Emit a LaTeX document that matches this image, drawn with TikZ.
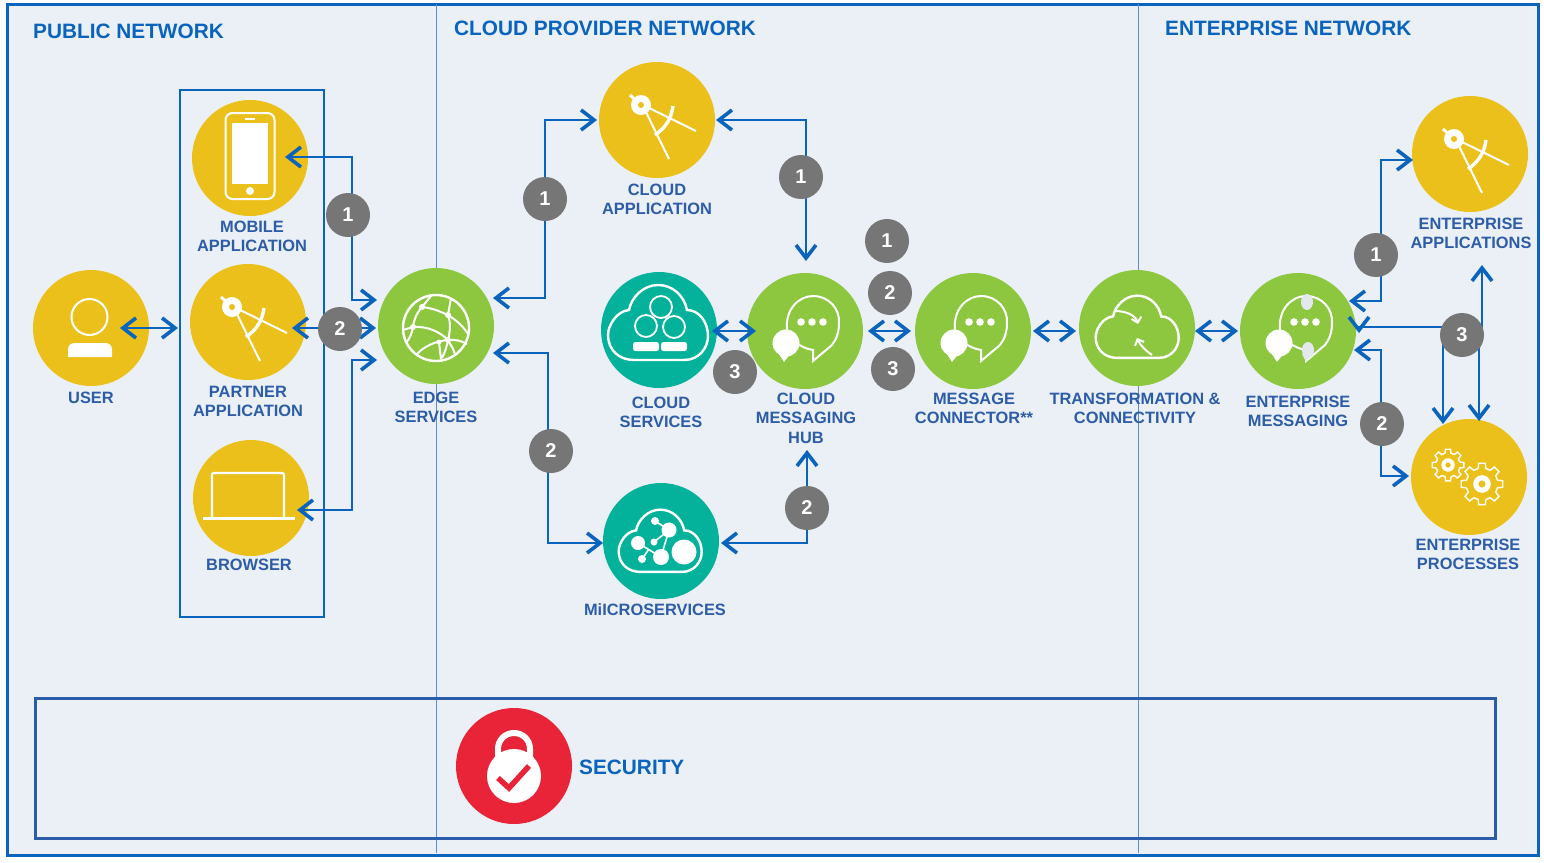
\documentclass[tikz,border=0pt]{standalone}
\usepackage{fontspec}
\setmainfont{Liberation Sans}
\usetikzlibrary{arrows.meta}

\definecolor{paneblue}{HTML}{EAF0F5}
\definecolor{wireblue}{HTML}{0A64BE}
\definecolor{framedark}{HTML}{2A5CAA}
\definecolor{zoneline}{HTML}{5C8FD0}
\definecolor{capblue}{HTML}{2D5CA8}
\definecolor{gold}{HTML}{EBC01A}
\definecolor{leaf}{HTML}{8DC63F}
\definecolor{teal}{HTML}{04B29C}
\definecolor{alarm}{HTML}{E92438}
\definecolor{slate}{HTML}{767676}
\definecolor{fadedot}{HTML}{E3E8EC}

\tikzset{
  compass/.pic={
    \draw[white,line width=2] (-13,-12)--(12,39) (-12,-14)--(39,11);
    \draw[white,line width=3.4] (16,-14) .. controls (14,0) and (8,8) .. (-2,15);
    \draw[white,line width=3] (-27,-25)--(-16,-15);
    \fill[white] (-16,-15) circle (10);
    \fill[gold] (-16,-15) circle (3);
  },
  chatbubble/.pic={
    \draw[white,line width=2] (-18,-1) .. controls (-20,-22) and (-6,-35) .. (8,-35)
      .. controls (24,-35) and (35,-22) .. (34,-8) .. controls (34,2) and (31,9) .. (27,14)
      -- (8,30) -- (8,19) .. controls (1,18) and (-4,15) .. (-9,12);
    \fill[white] (-19,12) circle (13.5);
    \fill[white] (-28,20) -- (-21,31) -- (-14,22) -- cycle;
    \foreach \dx in {-4,7,18}{\fill[white] (\dx,-9) circle (3.8);}
  },
  cloudline/.pic={
    \draw[white,line width=2.4] (-25,30) -- (25,30) .. controls (40,30) and (49,18) .. (49,6)
      .. controls (49,-8) and (40,-20) .. (28,-20) .. controls (25,-35) and (13,-45) .. (-1,-45)
      .. controls (-16,-45) and (-28,-32) .. (-30,-20) .. controls (-42,-19) and (-51,-5) .. (-51,5)
      .. controls (-51,20) and (-40,30) .. (-25,30) -- cycle;
  },
  gearwheel/.pic={
    \foreach \a in {0,45,...,315}{
      \draw[white,line width=1.4] (\a-14:.76) -- (\a-9:1) -- (\a+9:1) -- (\a+14:.76) -- (\a+31:.76);
    }
    \fill[white] (0,0) circle (.42);
    \fill[gold] (0,0) circle (.17);
  }
}

\begin{document}
\begin{tikzpicture}[x=1pt,y=-1pt]

\tikzstyle{vertex}=[circle,minimum size=116pt,inner sep=0pt]
\tikzstyle{edge}=[{Straight Barb[length=13pt,width=20pt,line width=3.6pt]}-{Straight Barb[length=13pt,width=20pt,line width=3.6pt]},draw=wireblue,line width=2pt]
\tikzstyle{badge}=[circle,fill=slate,minimum size=44pt,inner sep=0pt,text=white,font=\fontsize{20}{22}\selectfont\bfseries]
\tikzstyle{caption}=[align=center,inner sep=0pt,text=capblue,font=\fontsize{16.4}{19}\selectfont\bfseries]
\tikzstyle{zonetitle}=[anchor=west,inner sep=0pt,text=wireblue,font=\fontsize{20.8}{24}\selectfont\bfseries]
\tikzstyle{pane}=[draw=framedark,line width=3pt]

\useasboundingbox (0,0) rectangle (1544,862);
\draw[draw=wireblue,line width=3pt,fill=paneblue] (7,4) rectangle (1538,855);
\draw[zoneline,line width=1pt] (436,4) -- (436,853) (1138.5,4) -- (1138.5,853);
\draw[pane] (35,698) rectangle (1495,838);
\draw[draw=wireblue,line width=2pt] (180,90) rectangle (324,617);

\node[zonetitle](publictitle) at (33,31){PUBLIC NETWORK};
\node[zonetitle](cloudtitle) at (454,28){CLOUD PROVIDER NETWORK};
\node[zonetitle](enttitle) at (1165,28){ENTERPRISE NETWORK};

\node[vertex,fill=gold](user) at (91,328){};
\node[vertex,fill=gold](mobile) at (250,158){};
\node[vertex,fill=gold](partner) at (248,322){};
\node[vertex,fill=gold](browser) at (251,498){};
\node[vertex,fill=leaf](edges) at (436,326){};
\node[vertex,fill=gold](cloudapp) at (657,120){};
\node[vertex,fill=teal](cloudsvc) at (659,330){};
\node[vertex,fill=teal](micro) at (661,541){};
\node[vertex,fill=leaf](hub) at (805,331){};
\node[vertex,fill=leaf](connector) at (973,331){};
\node[vertex,fill=leaf](transform) at (1137,328){};
\node[vertex,fill=leaf](entmsg) at (1298,331){};
\node[vertex,fill=gold](entapp) at (1470,154){};
\node[vertex,fill=gold](entproc) at (1469,477){};
\node[vertex,fill=alarm](security) at (514,766){};

\node[caption](usercap) at (91,398){USER};
\node[caption](mobilecap) at (252,236){MOBILE\\APPLICATION};
\node[caption](partnercap) at (248,401){PARTNER\\APPLICATION};
\node[caption](browsercap) at (249,565){BROWSER};
\node[caption](edgecap) at (436,407){EDGE\\SERVICES};
\node[caption](cloudappcap) at (657,199){CLOUD\\APPLICATION};
\node[caption](cloudsvccap) at (661,412){CLOUD\\SERVICES};
\node[caption](hubcap) at (806,418){CLOUD\\MESSAGING\\[1pt]HUB};
\node[caption](connectorcap) at (974,408){MESSAGE\\CONNECTOR**};
\node[caption](transformcap) at (1135,408){TRANSFORMATION \&\\CONNECTIVITY};
\node[caption](entmsgcap) at (1298,411){ENTERPRISE\\MESSAGING};
\node[caption](entappcap) at (1471,233){ENTERPRISE\\APPLICATIONS};
\node[caption](entproccap) at (1468,554){ENTERPRISE\\PROCESSES};
\node[caption](microcap) at (655,610){MiICROSERVICES};
\node[zonetitle](securitycap) at (579,767){SECURITY};

% icons
\fill[white] (68,357) -- (68,350) .. controls (68,345) and (71,343) .. (75,343) -- (105,343) .. controls (109,343) and (112,345) .. (112,350) -- (112,357) -- cycle;
\draw[white,line width=2] (89.5,317) circle (18);

\draw[white,line width=2,rounded corners=7pt] (225.5,113) rectangle (274.5,199);
\fill[white] (232,123) rectangle (268,184);
\draw[white,line width=1.5] (245,119) -- (255,119);
\fill[white] (250,191) circle (4);

\pic at (partner) {compass};
\pic at (cloudapp) {compass};
\pic at (entapp) {compass};

\draw[white,line width=2.2,rounded corners=2pt] (212,518) -- (212,473) -- (284,473) -- (284,518);
\fill[white] (203,517) rectangle (295,520);

\begin{scope}[shift={(edges)}]
\draw[white,line width=2.4] (0,2) circle (33);
\draw[white,line width=2] (-14,-19) .. controls (-4,-18) and (3,-15) .. (12,-11) .. controls (20,-6) and (27,0) .. (32,8)
  (-5,-30) -- (-14,-19) .. controls (-20,-12) and (-22,-6) .. (-23,1) .. controls (-24,7) and (-26,12) .. (-30,17)
  (-33,4) -- (-23,1) .. controls (-8,0) and (4,6) .. (12,14) .. controls (14,18) and (17,22) .. (19,28)
  (15,-28) .. controls (14,-22) and (13,-17) .. (12,-11) .. controls (15,-3) and (14,6) .. (12,14) .. controls (11,20) and (9,26) .. (6,32)
  (-20,29) .. controls (-12,20) and (0,15) .. (12,14) .. controls (18,13) and (26,15) .. (31,18)
  (3,16) -- (5,33);
\fill[white] (-14,-19) circle (3) (12,-11) circle (3) (-23,1) circle (3) (12,14) circle (3) (3,16) circle (2.5);
\end{scope}

\pic at (cloudsvc) {cloudline};
\begin{scope}[shift={(cloudsvc)}]
\draw[white,line width=1.8] (2,-23) circle (11) (-13,-4) circle (11) (15,-3) circle (11);
\fill[white,rounded corners=2.5pt] (-26,12) rectangle (0,21);
\fill[white,rounded corners=2.5pt] (2,12) rectangle (28,21);
\end{scope}

\pic[yshift=-6pt,scale=.83] at (micro) {cloudline};
\begin{scope}[shift={(micro)}]
\fill[white] (23,11) circle (12.5) (0,16) circle (8) (-23,2) circle (7) (8,-11) circle (7.5) (-6,-20) circle (4) (-7,1) circle (3.5) (-19,18) circle (4);
\draw[white,line width=1.6] (-6,-20) -- (8,-11) (-23,2) -- (0,16) (-19,18) -- (-12,8) (-7,1) -- (8,-11) (8,-11) -- (0,16);
\end{scope}

\pic at (hub) {chatbubble};
\pic at (connector) {chatbubble};
\pic at (entmsg) {chatbubble};
\begin{scope}[shift={(entmsg)}]
\fill[fadedot] (9,-29) ellipse (6 and 8) (10,19) ellipse (6 and 8);
\fill[fadedot] (4,23) -- (8,31) -- (15,22) -- cycle;
\end{scope}

\pic[xshift=1pt,yshift=-5pt,scale=.83] at (transform) {cloudline};
\begin{scope}[shift={(transform)}]
\draw[white,line width=2,-{Straight Barb[length=5pt,width=10pt]}] (-22,-17) .. controls (-10,-17) and (-1,-12) .. (1,-4);
\draw[white,line width=2,-{Straight Barb[length=5pt,width=10pt]}] (15,27) .. controls (8,22) and (3,17) .. (0,10);
\end{scope}

\pic at ([shift={(-21,-12)}]entproc) [scale=16] {gearwheel};
\pic at ([shift={(13,7)}]entproc) [scale=21] {gearwheel};

\begin{scope}[shift={(security)}]
\draw[white,line width=6] (-16,0) -- (-16,-17) .. controls (-16,-26) and (-9,-33) .. (0,-33) .. controls (9,-33) and (16,-26) .. (16,-17) -- (16,0);
\fill[white] (0,10) circle (27);
\fill[white] (-16,-14) rectangle (16,-8);
\draw[alarm,line width=5.5] (-16,12) -- (-5,22) -- (15,0);
\end{scope}

% connectors
\coordinate (user-r) at (120,328);
\coordinate (group-l) at (178,328);
\coordinate (mobile-r) at (285,157);
\coordinate (partner-r) at (292,328);
\coordinate (browser-r) at (297,510);
\coordinate (edges-a) at (377,300);
\coordinate (edges-b) at (376,328);
\coordinate (edges-c) at (377,360);
\coordinate (edges-d) at (493,298);
\coordinate (edges-e) at (493,353);
\coordinate (cloudapp-l) at (597,120);
\coordinate (cloudapp-r) at (716,120);
\coordinate (micro-l) at (603,543);
\coordinate (micro-r) at (721,543);
\coordinate (hub-t) at (806,261);
\coordinate (hub-b) at (807,450);
\coordinate (cloudsvc-r) at (712,331);
\coordinate (hub-l) at (756,331);
\coordinate (hub-r) at (868,331);
\coordinate (connector-l) at (911,331);
\coordinate (connector-r) at (1033,331);
\coordinate (transform-l) at (1076,331);
\coordinate (transform-r) at (1195,331);
\coordinate (entmsg-l) at (1238,331);
\coordinate (entmsg-a) at (1349,301);
\coordinate (entmsg-b) at (1359,333);
\coordinate (entmsg-c) at (1354,350);
\coordinate (entapp-l) at (1413,160);
\coordinate (entapp-b) at (1482,265);
\coordinate (entproc-l) at (1409,476);
\coordinate (entproc-a) at (1443,424);
\coordinate (entproc-b) at (1479,421);

\draw[edge](user-r)--(group-l);
\draw[edge](mobile-r)-|(352,230)|-(edges-a);
\draw[edge](partner-r)--(edges-b);
\draw[edge](browser-r)-|(352,430)|-(edges-c);
\draw[edge](edges-d)-|(545,200)|-(cloudapp-l);
\draw[edge](edges-e)-|(548,450)|-(micro-l);
\draw[edge](cloudapp-r)-|(hub-t);
\draw[edge](micro-r)-|(hub-b);
\draw[edge](cloudsvc-r)--(hub-l);
\draw[edge](hub-r)--(connector-l);
\draw[edge](connector-r)--(transform-l);
\draw[edge](transform-r)--(entmsg-l);
\draw[edge](entmsg-a)-|(1381,230)|-(entapp-l);
\draw[edge](entmsg-c)-|(1381,420)|-(entproc-l);
\draw[edge](entmsg-b)|-(1443,327)--(entproc-a);
\draw[edge](entproc-b)--(1479,335)--(1482,335)--(entapp-b);

\node[badge](b1) at (348,215){1};
\node[badge](b2) at (340,329){2};
\node[badge](b3) at (545,199){1};
\node[badge](b4) at (551,451){2};
\node[badge](b5) at (801,177){1};
\node[badge](b6) at (807,508){2};
\node[badge](b7) at (735,372){3};
\node[badge](b8) at (887,241){1};
\node[badge](b9) at (890,293){2};
\node[badge](b10) at (893,369){3};
\node[badge](b11) at (1376,255){1};
\node[badge](b12) at (1382,424){2};
\node[badge](b13) at (1462,335){3};

\end{tikzpicture}
\end{document}
